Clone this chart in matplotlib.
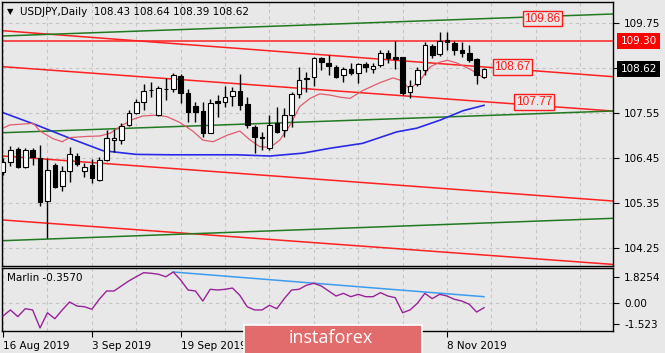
import matplotlib
matplotlib.use("Agg")
import matplotlib.pyplot as plt
from matplotlib.patches import Rectangle
import matplotlib.transforms as mtransforms

# USDJPY daily candles, 16 Aug 2019 .. 15 Nov 2019 (bar index 0..65)
opens = [106.11, 106.35, 106.66, 106.23, 106.64, 106.44, 105.40, 106.27, 105.76, 106.12,
         106.50, 106.13, 106.27, 105.90, 106.39, 106.88, 106.88, 107.25, 107.53, 107.82,
         108.10, 107.49, 108.12, 108.12, 108.45, 108.04, 107.71, 107.59, 107.06, 107.84,
         107.82, 107.96, 108.09, 107.76, 107.19, 106.94, 106.68, 107.29, 107.13, 107.49,
         108.01, 108.38, 108.42, 108.88, 108.77, 108.67, 108.47, 108.63, 108.51, 108.74,
         108.61, 108.72, 109.00, 108.90, 108.90, 108.06, 108.25, 108.59, 109.17, 108.99,
         109.32, 109.25, 109.08, 109.01, 108.86, 108.43]
highs = [106.44, 106.74, 106.71, 106.69, 106.69, 106.76, 106.44, 106.32, 106.25, 106.71,
         106.57, 106.32, 106.42, 106.47, 107.13, 107.15, 107.30, 107.61, 107.88, 108.24,
         108.29, 108.20, 108.39, 108.51, 108.50, 108.12, 107.82, 107.82, 107.88, 107.98,
         108.20, 108.18, 108.50, 107.93, 107.25, 107.08, 107.49, 107.68, 107.66, 108.06,
         108.66, 108.55, 108.92, 108.92, 108.96, 108.72, 108.67, 108.76, 108.76, 108.80,
         108.76, 109.08, 109.08, 109.31, 108.92, 108.35, 108.67, 109.29, 109.23, 109.53,
         109.52, 109.30, 109.28, 109.20, 108.88, 108.64]
lows = [106.03, 106.25, 106.20, 106.20, 106.27, 105.27, 104.49, 105.71, 105.64, 105.86,
        106.25, 105.98, 105.84, 105.88, 106.37, 106.59, 106.78, 107.22, 107.52, 107.62,
        107.94, 107.47, 107.86, 108.06, 107.79, 107.33, 107.33, 106.95, 107.05, 107.45,
        107.70, 107.71, 107.62, 107.18, 106.56, 106.64, 106.64, 107.05, 106.96, 107.21,
        107.90, 108.06, 108.19, 108.59, 108.47, 108.39, 108.31, 108.47, 108.27, 108.55,
        108.53, 108.67, 108.76, 108.63, 107.98, 107.90, 108.20, 108.47, 108.89, 108.94,
        109.08, 108.96, 108.92, 108.80, 108.25, 108.39]
closes = [106.35, 106.64, 106.21, 106.64, 106.46, 105.37, 106.15, 105.74, 106.12, 106.53,
          106.29, 106.23, 105.95, 106.39, 106.92, 106.93, 107.22, 107.53, 107.82, 108.09,
          108.11, 108.15, 108.13, 108.47, 108.04, 107.56, 107.56, 107.06, 107.78, 107.79,
          107.94, 108.09, 107.74, 107.25, 106.95, 106.96, 107.25, 107.08, 107.49, 108.01,
          108.35, 108.40, 108.88, 108.80, 108.69, 108.43, 108.63, 108.51, 108.73, 108.66,
          108.69, 109.02, 108.88, 108.86, 108.04, 108.20, 108.59, 109.20, 108.97, 109.31,
          109.27, 109.08, 109.02, 108.85, 108.48, 108.62]

# fast moving average (pink), read at sample bars
ma_fast_idx = [0, 0.9, 4.1, 5, 6.8, 8, 9, 11.4, 13.1, 14.5, 15.8, 17.6, 18.9, 20.8, 22.2,
               23.9, 25.7, 27, 28.4, 30.3, 32, 33.4, 34.7, 36.1, 37.4, 38.8, 40.1, 41.5,
               42.8, 44.2, 45.5, 46.9, 48.6, 50.9, 52.7, 53.6, 55, 56.4, 57.7, 59.1, 60.1,
               61.4, 62.7, 64.1, 65]
ma_fast = [107.17, 107.25, 107.29, 107.10, 106.91, 106.84, 106.94, 106.97, 106.98, 107.05,
           107.21, 107.39, 107.47, 107.49, 107.45, 107.31, 107.09, 106.88, 106.84, 107.00,
           107.10, 106.88, 106.72, 106.70, 106.88, 107.25, 107.70, 107.90, 108.01, 107.98,
           107.93, 107.90, 108.09, 108.28, 108.40, 108.35, 108.13, 108.35, 108.67, 108.79,
           108.83, 108.76, 108.65, 108.51, 108.39]

# slow moving average (blue)
ma_slow_idx = [0, 4.5, 9.1, 13.5, 18, 22.6, 27, 31.5, 36.1, 40.5, 44.2, 48.6, 53.2, 55.9,
               59.1, 62.2, 65]
ma_slow = [107.55, 107.25, 106.92, 106.62, 106.53, 106.52, 106.52, 106.52, 106.49, 106.56,
           106.68, 106.80, 107.08, 107.17, 107.37, 107.60, 107.73]

# Marlin oscillator
marlin = [-0.95, -0.52, -1.00, -0.43, -0.52, -1.81, -0.72, -1.15, -0.52, 0.05,
          -0.24, -0.29, -0.47, 0.24, 0.84, 0.84, 1.20, 1.56, 1.86, 2.15,
          2.11, 2.04, 1.86, 2.20, 1.63, 0.91, 0.84, 0.12, 0.96, 0.91,
          0.96, 1.05, 0.53, -0.29, -0.52, -0.52, -0.19, -0.43, 0.29, 0.91,
          0.96, 1.25, 1.39, 1.20, 0.84, 0.48, 0.67, 0.43, 0.60, 0.43,
          0.43, 0.72, 0.48, 0.36, -0.72, -0.52, -0.04, 0.67, 0.29, 0.60,
          0.48, 0.24, 0.12, -0.11, -0.67, -0.357]
marlin_trend = [(23, 2.20), (65, 0.43)]

# channel lines: (start bar, start price, end bar, end price)
red_lines = [(0, 109.554, 82.43, 108.43), (0, 108.674, 82.43, 107.59),
             (0, 106.491, 82.43, 105.39), (0, 104.926, 82.43, 103.84)]
green_lines = [(0, 109.425, 82.43, 109.963), (0, 107.06, 82.43, 107.591),
               (0, 104.42, 82.43, 104.967)]
level_line = 109.30

price_ticks = [104.25, 105.35, 106.45, 107.55, 108.65, 109.75]
price_labels = ['104.25', '105.35', '106.45', '107.55', '', '109.75']
# labels at bars 36 and 48 sit under the watermark, only their ticks show
date_idx = [0, 12, 24, 36, 48, 60]
date_labels = ['16 Aug 2019', '3 Sep 2019', '19 Sep 2019', '', '', '8 Nov 2019']
grid_idx = list(range(0, 83, 6))

bg = '#E8E8E8'
W, H = 665, 353
fig = plt.figure(figsize=(W / 100, H / 100), dpi=100, facecolor=bg)
ax = fig.add_axes([2 / W, 1 - 266 / H, 611 / W, 264 / H], facecolor=bg)
ax2 = fig.add_axes([2 / W, 1 - 331 / H, 611 / W, 63 / H], facecolor=bg)

xmin, xmax = -0.14, 82.43
ax.set_xlim(xmin, xmax)
ax.set_ylim(103.801, 110.256)
ax2.set_xlim(xmin, xmax)
ax2.set_ylim(-2.029, 2.487)

grid_kw = dict(color='#C4C4C4', lw=0.8, ls=(0, (3, 3)), zorder=0)
for g in grid_idx:
    ax.axvline(g, **grid_kw)
    ax2.axvline(g, **grid_kw)
for p in price_ticks:
    ax.axhline(p, **grid_kw)
ax2.axhline(0, **grid_kw)

# trend lines
for x0, y0, x1, y1 in red_lines:
    ax.plot([x0, x1], [y0, y1], color='#FF2020', lw=1.1, zorder=1)
for x0, y0, x1, y1 in green_lines:
    ax.plot([x0, x1], [y0, y1], color='#217A21', lw=1.1, zorder=1)
ax.axhline(level_line, color='#FF2020', lw=1.1, zorder=1)

# moving averages
ax.plot(ma_slow_idx, ma_slow, color='#2A2AE6', lw=1.2, zorder=2)
ax.plot(ma_fast_idx, ma_fast, color='#E25C6C', lw=0.9, zorder=2)

# candles
for i in range(len(opens)):
    o, h, l, c = opens[i], highs[i], lows[i], closes[i]
    ax.vlines(i, l, h, color='black', lw=1, zorder=3)
    up = c >= o
    ax.bar(i, max(abs(c - o), 0.012), bottom=min(o, c), width=0.62,
           color='white' if up else 'black', edgecolor='black', lw=0.8, zorder=4)

# price label boxes
box_kw = dict(color='#FF1A1A', fontsize=8.5, family='Liberation Sans', ha='center', va='center', zorder=6)
ax.text(72.9, 109.85, '109.86', bbox=dict(boxstyle='square,pad=0.15', fc=bg, ec='#FF1A1A', lw=1), **box_kw)
ax.text(68.85, 108.67, '108.67', bbox=dict(boxstyle='square,pad=0.15', fc=bg, ec='#FF1A1A', lw=1), **box_kw)
ax.text(71.8, 107.81, '107.77', bbox=dict(boxstyle='square,pad=0.15', fc=bg, ec='#FF1A1A', lw=1), **box_kw)

trans = mtransforms.blended_transform_factory(ax.transAxes, ax.transData)
ax.text(1.012, level_line, '109.30', transform=trans, color='white', fontsize=7.5, va='center', ha='left',
        bbox=dict(boxstyle='square,pad=0.3', fc='#FF0000', ec='none'), zorder=6, clip_on=False)
ax.text(1.012, closes[-1], '108.62', transform=trans, color='white', fontsize=7.5, va='center', ha='left',
        bbox=dict(boxstyle='square,pad=0.3', fc='black', ec='none'), zorder=6, clip_on=False)

ax.yaxis.tick_right()
ax.set_yticks(price_ticks)
ax.set_yticklabels(price_labels)
ax.tick_params(axis='y', direction='out', length=4, width=0.8, labelsize=7.5, pad=4, colors='black')
ax.set_xticks([])
for s in ax.spines.values():
    s.set_color('black')
    s.set_linewidth(1)

# indicator panel
ax2.plot(range(len(marlin)), marlin, color='#992299', lw=1, zorder=3)
ax2.plot([marlin_trend[0][0], marlin_trend[1][0]], [marlin_trend[0][1], marlin_trend[1][1]],
         color='#3D9BEF', lw=1.1, zorder=2)
ax2.text(0.008, 0.84, 'Marlin -0.3570', transform=ax2.transAxes, fontsize=7.5, va='center', ha='left')
ax2.yaxis.tick_right()
ax2.set_yticks([1.8254, 0.0, -1.523])
ax2.set_yticklabels(['1.8254', '0.00', '-1.523'])
ax2.tick_params(axis='y', direction='out', length=4, width=0.8, labelsize=7.5, pad=4)
ax2.set_xticks(date_idx)
ax2.set_xticklabels(date_labels)
for t in ax2.get_xticklabels():
    t.set_ha('left')
ax2.tick_params(axis='x', direction='out', length=4, width=0.8, labelsize=7.5, pad=3)
for s in ax2.spines.values():
    s.set_color('black')
    s.set_linewidth(1)

# header
fig.text(7 / W, 1 - 12 / H, '\u25BC', fontsize=6, va='center', ha='left')
fig.text(20 / W, 1 - 12 / H, 'USDJPY,Daily  108.43 108.64 108.39 108.62', fontsize=7.5, va='center', ha='left')

# watermark
fig.add_artist(Rectangle((244 / W, -0.01), 178 / W, 32 / H, transform=fig.transFigure,
                         fc='#E26B6B', ec='white', lw=1.2, zorder=10))
fig.text(331 / W, 1 - 338 / H, 'instaforex', color='white', fontsize=13, family='Open Sans',
         ha='center', va='center', zorder=11)

fig.savefig('out.png', dpi=100, facecolor=bg)
